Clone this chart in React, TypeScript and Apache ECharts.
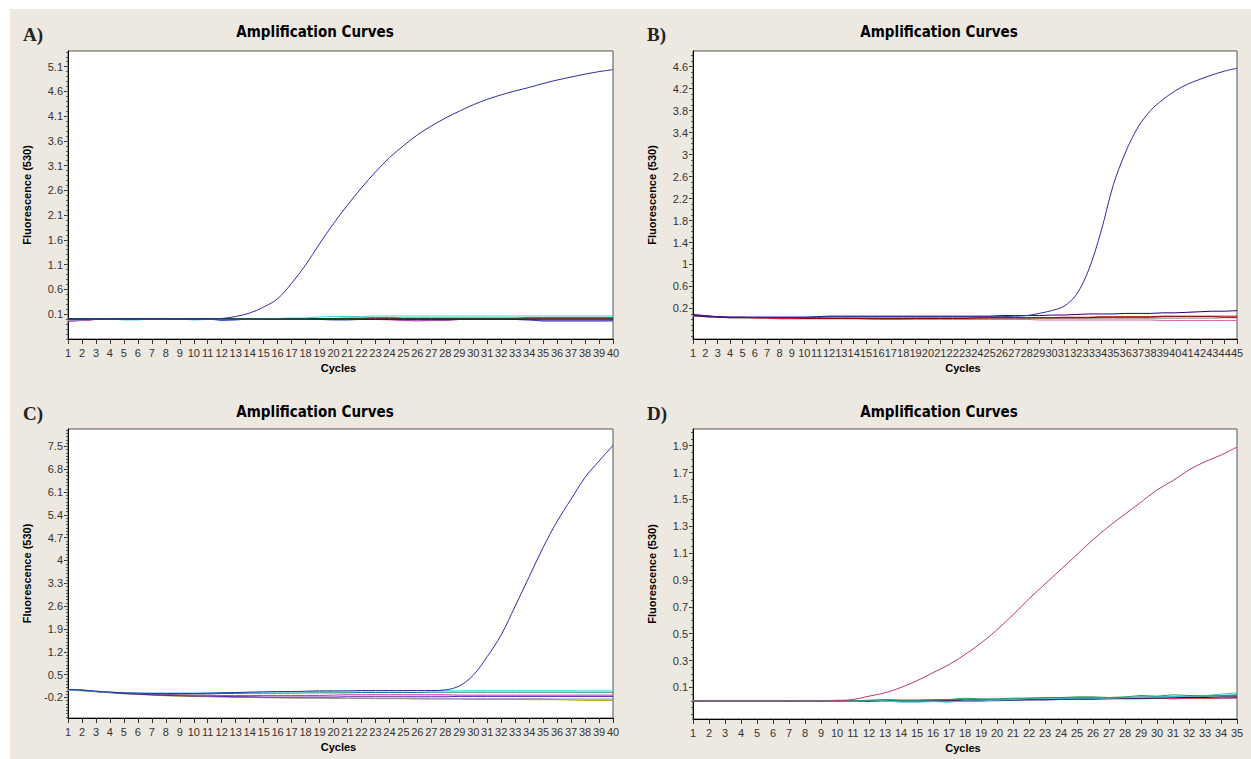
import React, { useEffect, useRef } from "react";
import * as echarts from "echarts";

// ---------------- DATA ----------------
const panelLabels = ["A)", "B)", "C)", "D)"];
const chartTitle = "Amplification Curves";
const xName = "Cycles";
const yName = "Fluorescence (530)";

const cycleCounts = [40, 45, 40, 35];

const yTicksA = [0.1, 0.6, 1.1, 1.6, 2.1, 2.6, 3.1, 3.6, 4.1, 4.6, 5.1];
const yTicksB = [0.2, 0.6, 1, 1.4, 1.8, 2.2, 2.6, 3, 3.4, 3.8, 4.2, 4.6];
const yTicksC = [-0.2, 0.5, 1.2, 1.9, 2.6, 3.3, 4, 4.7, 5.4, 6.1, 6.8, 7.5];
const yTicksD = [0.1, 0.3, 0.5, 0.7, 0.9, 1.1, 1.3, 1.5, 1.7, 1.9];

// Panel A
const aTarget = [-0.01,-0.01,0.00,0.00,0.00,0.00,0.00,0.00,0.00,0.00,0.00,0.01,0.05,0.12,0.24,0.41,0.72,1.09,1.52,1.93,2.30,2.65,2.97,3.26,3.50,3.72,3.90,4.06,4.20,4.33,4.44,4.53,4.61,4.68,4.76,4.83,4.89,4.95,5.00,5.04];
const aBlack = [0.00,0.00,0.00,0.00,0.00,0.00,0.00,0.00,0.00,0.00,0.00,0.00,0.00,0.00,0.00,0.00,0.00,0.00,0.00,0.00,0.00,0.00,0.00,0.00,0.00,0.00,0.00,0.00,0.00,0.00,0.00,0.00,0.00,0.00,0.00,0.00,0.00,0.00,0.00,0.00];
const aCyan = [-0.02,-0.02,0.00,0.00,-0.02,-0.02,0.00,0.00,0.00,-0.02,-0.01,-0.01,0.00,0.00,0.01,0.01,0.02,0.02,0.04,0.05,0.05,0.05,0.06,0.06,0.06,0.06,0.06,0.06,0.06,0.06,0.06,0.06,0.06,0.06,0.06,0.06,0.06,0.06,0.06,0.06];
const aGreen = [0.00,0.00,0.00,0.00,0.00,0.00,0.00,0.00,0.01,0.00,0.00,0.00,0.00,0.00,0.00,0.00,0.00,0.00,0.01,0.01,0.02,0.02,0.03,0.03,0.02,0.02,0.02,0.02,0.02,0.02,0.02,0.02,0.02,0.03,0.03,0.03,0.03,0.03,0.03,0.03];
const aMagenta = [-0.05,-0.03,-0.01,0.00,0.00,0.00,0.01,0.01,0.00,0.00,0.00,0.00,0.00,0.00,0.00,0.00,0.00,0.00,0.00,-0.01,-0.01,-0.01,-0.01,-0.01,-0.03,-0.04,-0.03,-0.03,-0.01,-0.01,-0.01,-0.01,-0.01,-0.01,-0.02,-0.02,-0.02,-0.02,-0.02,-0.02];
const aPink = [-0.03,-0.02,-0.01,0.00,0.00,0.00,0.00,0.00,0.00,0.00,0.00,0.00,0.00,0.00,0.00,0.00,0.00,0.00,0.00,0.00,0.00,0.00,-0.01,-0.02,-0.03,-0.03,-0.03,-0.03,-0.01,0.00,0.00,0.00,-0.01,-0.02,-0.04,-0.04,-0.04,-0.04,-0.04,-0.03];
const aNavy = [0.00,0.00,0.00,0.00,0.00,0.00,0.00,0.00,0.00,0.00,0.00,-0.03,-0.02,0.00,0.00,0.00,0.00,0.00,-0.01,-0.02,-0.02,-0.01,-0.01,-0.01,-0.01,-0.01,-0.01,-0.01,-0.01,-0.01,-0.01,-0.01,-0.01,-0.02,-0.04,-0.04,-0.04,-0.04,-0.04,-0.04];
const aRed = [-0.04,-0.03,-0.01,0.00,0.00,0.01,0.01,0.01,0.00,0.00,0.00,0.00,0.00,0.00,0.00,0.00,0.00,0.00,0.00,0.00,0.00,0.00,0.00,0.00,0.00,0.00,0.00,0.00,0.00,0.00,0.00,0.00,0.00,0.00,0.00,0.00,0.00,0.00,0.00,0.00];

// Panel B
const bTarget = [0.08,0.06,0.05,0.04,0.04,0.04,0.04,0.04,0.04,0.04,0.04,0.05,0.05,0.05,0.05,0.05,0.05,0.05,0.05,0.05,0.05,0.05,0.05,0.05,0.05,0.05,0.06,0.07,0.11,0.16,0.24,0.45,0.90,1.60,2.45,3.05,3.50,3.80,4.00,4.16,4.28,4.37,4.45,4.52,4.57];
const bNavy = [0.09,0.07,0.05,0.04,0.04,0.04,0.04,0.04,0.04,0.04,0.05,0.06,0.06,0.06,0.06,0.06,0.06,0.06,0.06,0.06,0.06,0.06,0.06,0.06,0.06,0.07,0.07,0.07,0.07,0.08,0.08,0.09,0.10,0.10,0.10,0.11,0.11,0.11,0.12,0.12,0.13,0.14,0.15,0.15,0.16];
const bRed = [0.07,0.06,0.05,0.04,0.04,0.03,0.03,0.02,0.02,0.02,0.02,0.02,0.02,0.02,0.01,0.01,0.01,0.01,0.02,0.02,0.02,0.02,0.02,0.02,0.03,0.03,0.03,0.03,0.03,0.03,0.04,0.04,0.04,0.05,0.05,0.05,0.05,0.05,0.06,0.06,0.06,0.06,0.06,0.06,0.06];
const bMaroon = [0.07,0.05,0.04,0.03,0.03,0.03,0.03,0.03,0.03,0.02,0.02,0.02,0.02,0.02,0.02,0.02,0.02,0.02,0.02,0.02,0.02,0.02,0.02,0.03,0.03,0.03,0.03,0.03,0.03,0.03,0.03,0.03,0.03,0.04,0.04,0.04,0.04,0.04,0.05,0.05,0.05,0.05,0.05,0.04,0.04];
const bPink = [0.06,0.05,0.04,0.03,0.03,0.03,0.02,0.01,0.01,0.01,0.01,0.01,0.01,0.01,0.01,0.00,0.00,0.00,0.00,0.00,0.00,0.00,0.00,0.00,0.00,0.00,0.00,0.00,-0.01,-0.01,-0.01,-0.01,-0.01,-0.01,-0.01,-0.01,-0.01,-0.01,-0.02,-0.02,-0.02,-0.02,-0.02,-0.02,-0.02];
const bGray = [0.06,0.05,0.04,0.04,0.04,0.03,0.03,0.03,0.03,0.03,0.03,0.03,0.03,0.03,0.03,0.03,0.03,0.03,0.03,0.03,0.03,0.03,0.03,0.03,0.02,0.02,0.02,0.02,0.02,0.02,0.02,0.02,0.02,0.02,0.02,0.02,0.02,0.02,0.02,0.02,0.02,0.02,0.02,0.03,0.03];

// Panel C
const cTarget = [0.04,0.02,-0.01,-0.04,-0.06,-0.07,-0.08,-0.08,-0.08,-0.08,-0.07,-0.06,-0.05,-0.04,-0.03,-0.02,-0.02,-0.01,0.00,0.00,0.00,0.01,0.01,0.01,0.01,0.01,0.01,0.03,0.15,0.48,1.05,1.72,2.60,3.50,4.40,5.20,5.88,6.55,7.05,7.53];
const cPurple = [0.03,0.02,-0.02,-0.05,-0.08,-0.10,-0.12,-0.14,-0.15,-0.16,-0.16,-0.17,-0.18,-0.18,-0.19,-0.19,-0.19,-0.19,-0.19,-0.19,-0.18,-0.18,-0.18,-0.18,-0.18,-0.18,-0.18,-0.18,-0.17,-0.17,-0.17,-0.17,-0.17,-0.17,-0.17,-0.17,-0.17,-0.17,-0.17,-0.17];
const cMagenta = [0.05,0.03,-0.01,-0.04,-0.07,-0.09,-0.10,-0.11,-0.12,-0.13,-0.13,-0.14,-0.14,-0.14,-0.14,-0.14,-0.14,-0.14,-0.14,-0.13,-0.12,-0.12,-0.12,-0.12,-0.12,-0.12,-0.12,-0.12,-0.13,-0.13,-0.13,-0.13,-0.13,-0.13,-0.13,-0.13,-0.13,-0.13,-0.13,-0.13];
const cCyan = [0.02,0.01,-0.02,-0.04,-0.05,-0.06,-0.06,-0.06,-0.06,-0.06,-0.06,-0.05,-0.05,-0.04,-0.04,-0.04,-0.03,-0.03,-0.02,-0.01,-0.01,0.00,0.00,0.00,0.00,0.01,0.01,0.01,0.01,0.01,0.01,0.01,0.01,0.01,0.01,0.01,0.01,0.02,0.02,0.02];
const cTeal = [0.04,0.02,-0.02,-0.04,-0.06,-0.08,-0.09,-0.09,-0.09,-0.09,-0.09,-0.08,-0.08,-0.07,-0.07,-0.07,-0.07,-0.06,-0.06,-0.06,-0.06,-0.05,-0.05,-0.05,-0.05,-0.05,-0.04,-0.04,-0.04,-0.04,-0.04,-0.04,-0.04,-0.04,-0.04,-0.04,-0.04,-0.04,-0.04,-0.04];
const cGray = [0.03,0.01,-0.02,-0.05,-0.08,-0.10,-0.12,-0.13,-0.14,-0.15,-0.16,-0.17,-0.18,-0.19,-0.20,-0.21,-0.21,-0.22,-0.22,-0.22,-0.23,-0.23,-0.23,-0.23,-0.23,-0.23,-0.24,-0.24,-0.24,-0.24,-0.24,-0.24,-0.24,-0.24,-0.24,-0.25,-0.25,-0.25,-0.25,-0.25];
const cOlive = [0.02,0.00,-0.03,-0.06,-0.09,-0.11,-0.13,-0.15,-0.16,-0.17,-0.18,-0.19,-0.20,-0.20,-0.21,-0.21,-0.22,-0.22,-0.22,-0.23,-0.23,-0.23,-0.24,-0.24,-0.24,-0.25,-0.25,-0.25,-0.25,-0.26,-0.26,-0.26,-0.26,-0.27,-0.27,-0.27,-0.28,-0.29,-0.29,-0.29];

// Panel D
const dTarget = [0.00,0.00,0.00,0.00,0.00,0.00,0.00,0.00,0.00,0.00,0.01,0.035,0.06,0.10,0.15,0.21,0.27,0.345,0.43,0.53,0.64,0.76,0.87,0.98,1.09,1.20,1.30,1.39,1.48,1.57,1.64,1.72,1.78,1.83,1.89];
const dGreen = [0.00,0.00,0.00,0.00,0.00,0.00,0.00,0.00,0.00,-0.005,0.00,0.005,0.01,0.005,0.005,0.01,0.01,0.02,0.015,0.015,0.02,0.02,0.025,0.025,0.03,0.03,0.025,0.03,0.04,0.035,0.045,0.04,0.035,0.04,0.04];
const dCyan = [0.00,0.00,0.00,0.00,0.00,0.00,0.00,0.00,0.00,0.00,0.00,0.00,0.00,-0.01,-0.01,-0.005,-0.01,0.00,0.00,0.005,0.01,0.015,0.015,0.02,0.02,0.02,0.02,0.025,0.025,0.03,0.03,0.035,0.04,0.05,0.06];
const dNavy = [-0.005,0.00,0.00,0.00,0.00,0.00,-0.005,0.00,-0.005,0.00,0.00,-0.005,0.005,0.00,0.00,0.00,0.00,0.00,0.00,0.005,0.005,0.01,0.01,0.015,0.015,0.015,0.02,0.02,0.02,0.02,0.025,0.025,0.025,0.03,0.03];
const dRed = [0.00,0.00,0.00,0.00,0.00,0.00,0.00,0.00,0.00,0.00,0.00,0.00,0.00,0.00,0.00,0.00,0.005,0.005,0.005,0.01,0.01,0.01,0.01,0.015,0.015,0.015,0.015,0.02,0.02,0.02,0.015,0.02,0.02,0.02,0.025];
const dTeal = [0.00,0.00,0.00,0.00,0.00,0.00,0.00,0.00,0.00,0.00,0.00,0.00,0.005,0.005,0.005,0.005,0.01,0.01,0.01,0.01,0.015,0.02,0.02,0.02,0.025,0.025,0.02,0.025,0.03,0.03,0.03,0.035,0.035,0.04,0.045];
const dPurple = [-0.005,0.00,0.00,0.00,0.00,0.00,0.00,0.00,0.00,0.005,0.005,0.00,0.00,0.00,0.00,-0.005,0.00,0.00,0.00,0.00,0.005,0.005,0.005,0.01,0.01,0.01,0.015,0.015,0.015,0.02,0.02,0.02,0.02,0.02,0.02];

// ---------------- LAYOUT / STYLE ----------------
const BEIGE = "#ede8e0";
const MAIN_BLUE = "#2e2ea4";
const MAIN_PINK = "#c2367c";

type Panel = {
  left: number; top: number; width: number; height: number;
  min: number; max: number; ticks: number[]; minorStep: number;
  series: { values: number[]; color: string; main?: boolean }[];
  labelX: number; labelY: number; titleX: number; titleY: number;
  yNameX: number; cyclesY: number;
};

const panels: Panel[] = [
  {
    left: 68, top: 51, width: 545, height: 288, min: -0.405, max: 5.417, ticks: yTicksA, minorStep: 0.1,
    series: [
      { values: aRed, color: "#c00000" }, { values: aPink, color: "#f070b0" }, { values: aMagenta, color: "#b040c0" },
      { values: aNavy, color: "#2040d0" }, { values: aGreen, color: "#10a030" }, { values: aCyan, color: "#40d0e0" },
      { values: aBlack, color: "#000000" }, { values: aTarget, color: MAIN_BLUE, main: true },
    ],
    labelX: 23, labelY: 34, titleX: 315, titleY: 32, yNameX: 27, cyclesY: 368,
  },
  {
    left: 693, top: 51, width: 544, height: 288, min: -0.356, max: 4.885, ticks: yTicksB, minorStep: 0.1,
    series: [
      { values: bGray, color: "#a0a0a0" }, { values: bPink, color: "#e060b0" }, { values: bRed, color: "#d02020" },
      { values: bMaroon, color: "#800000" }, { values: bNavy, color: "#200080" }, { values: bTarget, color: MAIN_BLUE, main: true },
    ],
    labelX: 647, labelY: 34, titleX: 939, titleY: 32, yNameX: 652, cyclesY: 368,
  },
  {
    left: 68, top: 429, width: 545, height: 289, min: -0.832, max: 8.034, ticks: yTicksC, minorStep: 0.1,
    series: [
      { values: cOlive, color: "#a0a000" }, { values: cGray, color: "#9090b0" }, { values: cMagenta, color: "#d030a0" },
      { values: cPurple, color: "#6020b0" }, { values: cTeal, color: "#108070" }, { values: cCyan, color: "#60e0f0" },
      { values: cTarget, color: MAIN_BLUE, main: true },
    ],
    labelX: 23, labelY: 413, titleX: 315, titleY: 412, yNameX: 27, cyclesY: 747,
  },
  {
    left: 693, top: 429, width: 544, height: 290, min: -0.135, max: 2.024, ticks: yTicksD, minorStep: 0.05,
    series: [
      { values: dPurple, color: "#9050d0" }, { values: dRed, color: "#e03030" }, { values: dNavy, color: "#101060" },
      { values: dTeal, color: "#308080" }, { values: dCyan, color: "#40c0e0" }, { values: dGreen, color: "#20a050" },
      { values: dTarget, color: MAIN_PINK, main: true },
    ],
    labelX: 647, labelY: 413, titleX: 939, titleY: 412, yNameX: 652, cyclesY: 748,
  },
];

function minorValues(min: number, max: number, step: number): number[] {
  const out: number[] = [];
  const start = Math.ceil(min / step - 1e-9);
  for (let k = start; k * step <= max + 1e-9; k++) out.push(+(k * step).toFixed(4));
  return out;
}

const TICK_FONT = "Liberation Sans";

function buildOption(): any {
  const grid: any[] = [];
  const xAxis: any[] = [];
  const yAxis: any[] = [];
  const series: any[] = [];
  const graphic: any[] = [
    { type: "rect", shape: { x: 0, y: 0, width: 1251, height: 9 }, style: { fill: "#ffffff" }, silent: true },
    { type: "rect", shape: { x: 0, y: 0, width: 10, height: 759 }, style: { fill: "#ffffff" }, silent: true },
  ];

  panels.forEach((p, g) => {
    grid.push({
      left: p.left, top: p.top, width: p.width, height: p.height,
      show: true, backgroundColor: "#ffffff", borderColor: "#555555", borderWidth: 1,
      containLabel: false,
    });
    xAxis.push({
      type: "value", gridIndex: g, min: 1, max: cycleCounts[g], interval: 1,
      axisLine: { show: true, onZero: false, lineStyle: { color: "#000000", width: 1 } },
      axisTick: { show: true, length: 5, lineStyle: { color: "#333333" } },
      axisLabel: { margin: 8, fontSize: 11, fontFamily: TICK_FONT, color: "#333333", showMinLabel: true, showMaxLabel: true },
      splitLine: { show: false },
    });
    yAxis.push({
      type: "value", gridIndex: g, min: p.min, max: p.max, position: "left",
      axisLine: { show: true, onZero: false, lineStyle: { color: "#000000", width: 1 } },
      axisTick: { show: true, length: 4, customValues: p.ticks, lineStyle: { color: "#333333" } },
      axisLabel: { customValues: p.ticks, margin: 5, fontSize: 11, fontFamily: TICK_FONT, color: "#333333" },
      splitLine: { show: false },
    });
    yAxis.push({
      type: "value", gridIndex: g, min: p.min, max: p.max, position: "left", offset: 0,
      axisLine: { show: false, onZero: false },
      axisTick: { show: true, length: 2, customValues: minorValues(p.min, p.max, p.minorStep), lineStyle: { color: "#555555" } },
      axisLabel: { show: false },
      splitLine: { show: false },
    });
    p.series.forEach((s) => {
      series.push({
        type: "line", xAxisIndex: g, yAxisIndex: g * 2,
        data: s.values.map((v, i) => [i + 1, v]),
        smooth: s.main ? 0.35 : false,
        showSymbol: false, symbol: "none", silent: true, clip: true,
        lineStyle: { color: s.color, width: 1 }, itemStyle: { color: s.color },
      });
    });

    graphic.push({
      type: "text", x: p.labelX, y: p.labelY, silent: true,
      style: { text: panelLabels[g], fill: "#222222", font: 'bold 19px "Liberation Serif"', textAlign: "left", textVerticalAlign: "middle" },
    });
    graphic.push({
      type: "text", x: p.titleX, y: p.titleY, silent: true,
      style: { text: chartTitle, fill: "#000000", font: 'bold 15px "DejaVu Sans Condensed"', textAlign: "center", textVerticalAlign: "middle" },
    });
    graphic.push({
      type: "text", x: p.yNameX, y: p.top + p.height / 2, rotation: Math.PI / 2, silent: true,
      style: { text: yName, fill: "#000000", font: 'bold 11px "Liberation Sans"', textAlign: "center", textVerticalAlign: "middle" },
    });
    graphic.push({
      type: "text", x: p.left + p.width / 2 - 2, y: p.cyclesY, silent: true,
      style: { text: xName, fill: "#000000", font: 'bold 11px "Liberation Sans"', textAlign: "center", textVerticalAlign: "middle" },
    });
  });

  return { animation: false, backgroundColor: BEIGE, grid, xAxis, yAxis, series, graphic };
}

export default function App() {
  const ref = useRef<HTMLDivElement>(null);
  useEffect(() => {
    document.body.style.margin = "0";
    if (!ref.current) return;
    const chart = echarts.init(ref.current, undefined, { renderer: "svg" });
    chart.setOption(buildOption());
    return () => chart.dispose();
  }, []);
  return <div ref={ref} style={{ width: 1251, height: 759 }} />;
}
